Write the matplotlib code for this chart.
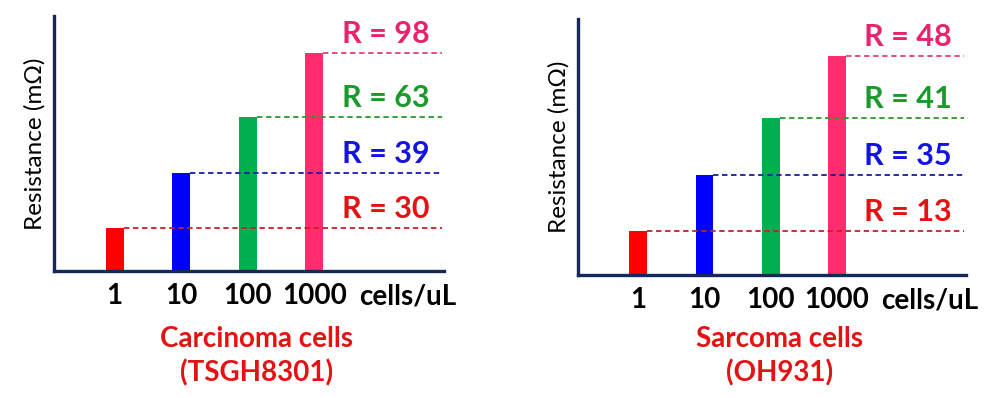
import matplotlib.pyplot as plt
import numpy as np

plt.rcParams['font.family'] = ['Lato', 'DejaVu Sans']

# cell concentrations (cells/uL)
concentrations = ['1', '10', '100', '1000']
unit_label = 'cells/uL'

# drawn bar heights (schematic) and resistance labels
carcinoma_heights = [43, 98, 154, 218]
carcinoma_R = [30, 39, 63, 98]
sarcoma_heights = [44, 100, 156, 218]
sarcoma_R = [13, 35, 41, 48]

bar_colors = ['#ff0000', '#0000ff', '#00b050', '#ff2d6e']
line_colors = ['#c8202a', '#1a1aa8', '#2a9a2a', '#e0407a']
text_colors = ['#e41212', '#1414e0', '#1a9a2a', '#e8246e']
axis_color = '#14285a'


def draw_panel(ax, heights, r_values, title_lines, title_offsets):
    x = np.arange(len(heights))
    ax.bar(x, heights, width=0.27, color=bar_colors, zorder=1)
    for xi, h, lc, tc, r in zip(x, heights, line_colors, text_colors, r_values):
        ax.hlines(h, xi + 0.135, 4.92, colors=lc, linestyles=(0, (3, 2)),
                  linewidth=1.3, zorder=2, clip_on=False)
        ax.text(4.07, h + 10, 'R = %d' % r, color=tc, fontsize=22,
                fontweight='bold', ha='center', va='baseline')

    ax.set_xlim(-0.91, 4.95)
    ax.set_ylim(0, 255)
    ax.set_xticks(list(x) + [4.4])
    ax.set_xticklabels(concentrations + [unit_label], fontsize=20,
                       fontweight='bold')
    ax.tick_params(axis='x', length=0, pad=9)
    ax.set_yticks([])
    for side in ['top', 'right']:
        ax.spines[side].set_visible(False)
    for side in ['left', 'bottom']:
        ax.spines[side].set_color(axis_color)
        ax.spines[side].set_linewidth(2.4)
    ax.set_ylabel('Resistance (m\u03a9)', fontsize=17.5, labelpad=6)
    for line, off in zip(title_lines, title_offsets):
        ax.annotate(line, xy=(2.14, 0), xycoords=('data', 'axes fraction'),
                    xytext=(0, off), textcoords='offset pixels',
                    color='#e41212', fontsize=20, fontweight='bold',
                    ha='center', va='baseline')


fig = plt.figure(figsize=(10, 3.98), dpi=100)
ax1 = fig.add_axes([0.054, 127 / 398, 0.390, 255 / 398])
ax2 = fig.add_axes([0.578, 123 / 398, 0.388, 256 / 398])

draw_panel(ax1, carcinoma_heights, carcinoma_R,
           ['Carcinoma cells', '(TSGH8301)'], [-76, -110])
draw_panel(ax2, sarcoma_heights, sarcoma_R,
           ['Sarcoma cells', '(OH931)'], [-72, -106])

fig.savefig('out.png', dpi=100)
